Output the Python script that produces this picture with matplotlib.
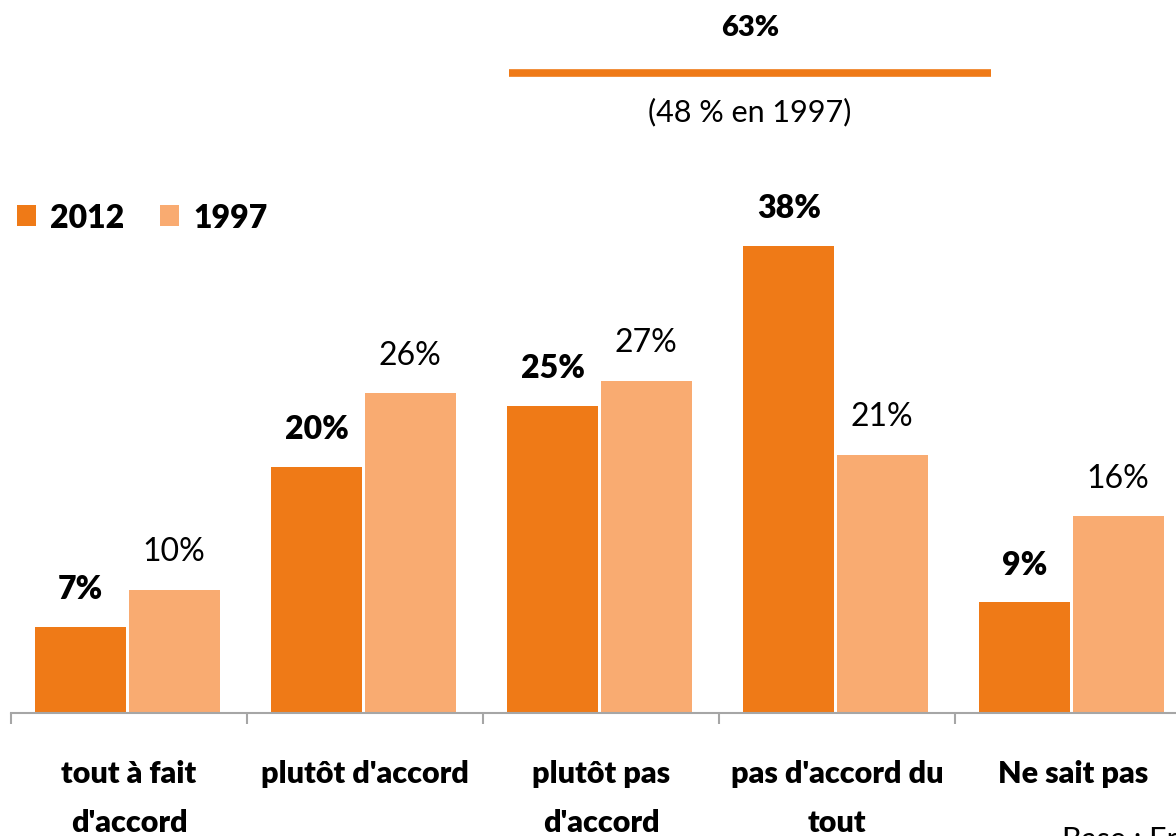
import matplotlib
matplotlib.use("Agg")
import matplotlib.pyplot as plt
from matplotlib.lines import Line2D
import numpy as np

plt.rcParams['font.family'] = ['Lato', 'DejaVu Sans']

categories = ["tout à fait\nd'accord", "plutôt d'accord", "plutôt pas\nd'accord",
              "pas d'accord du\ntout", "Ne sait pas"]
values_2012 = [7, 20, 25, 38, 9]
values_1997 = [10, 26, 27, 21, 16]
series_names = ["2012", "1997"]
total_label = "63%"
total_sub = "(48 % en 1997)"
base_note = "Base : Ensemble"

c2012 = "#EF7A17"
c1997 = "#F9AB71"

W, H = 1176, 837
fig = plt.figure(figsize=(W / 100, H / 100), dpi=100)

def fx(px):
    return px / W

def fy(py):
    return 1 - py / H

ax_left, ax_right = 11, 1191
ax_bottom, ax_top = 714, 714 - 40 * 12.3
ax = fig.add_axes([fx(ax_left), fy(ax_bottom), fx(ax_right - ax_left), (ax_bottom - ax_top) / H])

x = np.arange(len(categories))
bw = 0.386
b1 = ax.bar(x - 0.204, values_2012, bw, color=c2012, label=series_names[0])
b2 = ax.bar(x + 0.191, values_1997, bw, color=c1997, label=series_names[1])

for xi, v in zip(x, values_2012):
    ax.annotate(f"{v}%", (xi - 0.204, v), xytext=(0, 17), textcoords="offset points",
                ha="center", va="bottom", fontsize=23, fontweight="heavy", color="black")
for xi, v in zip(x, values_1997):
    ax.annotate(f"{v}%", (xi + 0.191, v), xytext=(0, 17), textcoords="offset points",
                ha="center", va="bottom", fontsize=23, color="black")

ax.set_xlim(-0.5, len(categories) - 0.5)
ax.set_ylim(0, 40)
ax.set_yticks([])
for s in ["left", "right", "top"]:
    ax.spines[s].set_visible(False)
ax.spines["bottom"].set_color("#A6A6A6")
ax.spines["bottom"].set_linewidth(1.5)

ax.set_xticks(x)
ax.set_xticklabels(categories, fontsize=22, fontweight="heavy", linespacing=1.9)
ax.tick_params(axis="x", which="major", length=0, pad=33)
ax.set_xticks(np.arange(len(categories) + 1) - 0.5, minor=True)
ax.tick_params(axis="x", which="minor", length=8, width=1.5, color="#A6A6A6")

# Legend
leg = fig.legend(handles=[b1, b2], labels=series_names, loc="upper left",
                 bbox_to_anchor=(fx(4), fy(191)), ncol=2, frameon=False,
                 prop={"weight": "heavy", "size": 23}, handlelength=0.6, handleheight=0.6,
                 handletextpad=0.45, columnspacing=1.1, borderaxespad=0)

# Top annotation
fig.text(fx(750), fy(28), total_label, ha="center", va="center", fontsize=21, fontweight="heavy")
fig.add_artist(Line2D([fx(509), fx(991)], [fy(74), fy(74)], color=c2012, linewidth=5.5,
                      solid_capstyle="butt"))
fig.text(fx(750), fy(112), total_sub, ha="center", va="center", fontsize=22)

fig.text(fx(1062), fy(826), base_note, ha="left", va="top", fontsize=22)

fig.savefig("out.png", dpi=100)
